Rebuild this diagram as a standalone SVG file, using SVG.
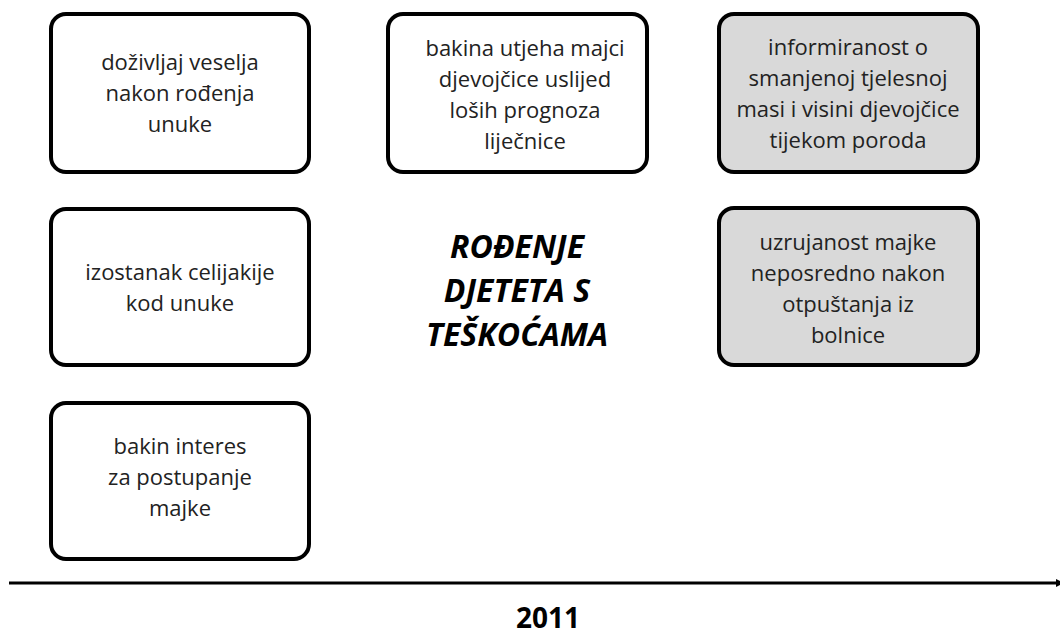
<svg xmlns="http://www.w3.org/2000/svg" width="1060" height="631" viewBox="0 0 1060 631">
<style>
.box{fill:#fff;stroke:#000;stroke-width:4}
.gray{fill:#d9d9d9}
.t{font-family:"Open Sans","Noto Sans",sans-serif;font-size:22px;fill:#222;text-anchor:middle}
.title{font-family:"Open Sans","Noto Sans",sans-serif;font-size:32px;font-weight:bold;font-style:italic;fill:#000;text-anchor:middle}
.year{font-family:"Open Sans","Noto Sans",sans-serif;font-size:28px;font-weight:bold;fill:#000;text-anchor:middle}
</style>
<defs>
<marker id="arr" markerWidth="8" markerHeight="8" refX="1" refY="4" orient="auto" markerUnits="userSpaceOnUse">
<path d="M0,0 L8,4 L0,8 z" fill="#000"/>
</marker>
</defs>
<rect width="1060" height="631" fill="#fff"/>
<g id="n1"><rect class="box" x="51" y="14" width="258" height="158" rx="15"/>
<text class="t"><tspan x="180" y="70">doživljaj veselja</tspan><tspan x="180" y="101">nakon rođenja</tspan><tspan x="180" y="132">unuke</tspan></text></g>
<g id="n2"><rect class="box" x="388" y="14" width="259" height="158" rx="15"/>
<text class="t"><tspan x="525" y="56">bakina utjeha majci</tspan><tspan x="525" y="87">djevojčice uslijed</tspan><tspan x="525" y="118">loših prognoza</tspan><tspan x="525" y="149">liječnice</tspan></text></g>
<g id="n3"><rect class="box gray" x="719" y="14" width="259" height="158" rx="15"/>
<text class="t"><tspan x="848" y="55">informiranost o</tspan><tspan x="848" y="86">smanjenoj tjelesnoj</tspan><tspan x="848" y="117">masi i visini djevojčice</tspan><tspan x="848" y="148">tijekom poroda</tspan></text></g>
<g id="n4"><rect class="box" x="51" y="209" width="258" height="156" rx="15"/>
<text class="t"><tspan x="180" y="280">izostanak celijakije</tspan><tspan x="180" y="311">kod unuke</tspan></text></g>
<g id="title"><text class="title"><tspan x="517" y="258">ROĐENJE</tspan><tspan x="517" y="302">DJETETA S</tspan><tspan x="517" y="346">TEŠKOĆAMA</tspan></text></g>
<g id="n5"><rect class="box gray" x="719" y="208" width="259" height="157" rx="15"/>
<text class="t"><tspan x="848" y="250">uzrujanost majke</tspan><tspan x="848" y="281">neposredno nakon</tspan><tspan x="848" y="312">otpuštanja iz</tspan><tspan x="848" y="343">bolnice</tspan></text></g>
<g id="n6"><rect class="box" x="51" y="403" width="258" height="156" rx="15"/>
<text class="t"><tspan x="180" y="454">bakin interes</tspan><tspan x="180" y="485">za postupanje</tspan><tspan x="180" y="516">majke</tspan></text></g>
<g id="connectors"><line x1="9" y1="583" x2="1057" y2="583" stroke="#000" stroke-width="3" marker-end="url(#arr)"/></g>
<g id="year"><text class="year" x="548" y="628">2011</text></g>
</svg>
